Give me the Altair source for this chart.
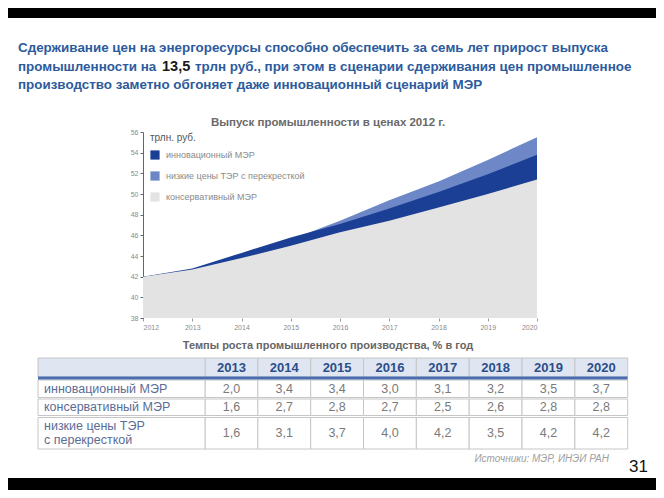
import altair as alt
import pandas as pd

# ---------------- data ----------------
years = [2012, 2013, 2014, 2015, 2016, 2017, 2018, 2019, 2020]
series_names = ["инновационный МЭР", "низкие цены ТЭР с перекресткой", "консервативный МЭР"]
innov = [42.0, 42.8, 44.3, 45.8, 47.1, 48.6, 50.2, 51.9, 53.8]
low = [42.0, 42.7, 44.0, 45.6, 47.4, 49.4, 51.2, 53.3, 55.5]
cons = [42.0, 42.7, 43.8, 45.0, 46.3, 47.4, 48.7, 50.0, 51.4]
y_ticks = [38, 40, 42, 44, 46, 48, 50, 52, 54, 56]

table_years = ["2013", "2014", "2015", "2016", "2017", "2018", "2019", "2020"]
row_labels = ["инновационный МЭР", "консервативный МЭР", "низкие цены ТЭР\nс перекресткой"]
rate_innov = [2.0, 3.4, 3.4, 3.0, 3.1, 3.2, 3.5, 3.7]
rate_cons = [1.6, 2.7, 2.8, 2.7, 2.5, 2.6, 2.8, 2.8]
rate_low = [1.6, 3.1, 3.7, 4.0, 4.2, 3.5, 4.2, 4.2]

title_lines = [
    "Сдерживание цен на энергоресурсы способно обеспечить за семь лет прирост выпуска",
    "промышленности на",
    "13,5",
    "трлн руб., при этом в сценарии сдерживания цен промышленное",
    "производство заметно обгоняет даже инновационный сценарий МЭР",
]
chart_title = "Выпуск промышленности в ценах 2012 г."
unit_label = "трлн. руб."
table_title = "Темпы роста промышленного производства, % в год"
source_text = "Источники: МЭР, ИНЭИ РАН"
page_no = "31"

# ---------------- layout / style ----------------
W, H = 648, 482
FONT = "Liberation Sans Narrow, Liberation Sans, sans-serif"
TF = "Liberation Sans, Arial, sans-serif"
BLUE_T = "#2d5b9d"
C_DARK = "#1b3f95"
C_LIGHT = "#6e88c7"
C_GREY = "#e3e3e3"

PX0, PX1 = 135, 529        # plot x range (2012..2020)
PY_TOP, PY_BOT = 124, 310  # plot y range (56..38)

# ---------------- area chart ----------------
rows = []
for name, vals in zip(series_names, [innov, low, cons]):
    for yr, v in zip(years, vals):
        rows.append({"year": yr, "value": v, "series": name})
df_area = pd.DataFrame(rows)

xenc = alt.X("year:Q",
             scale=alt.Scale(domain=[2012, 2020], range=[PX0, PX1], nice=False, zero=False),
             axis=alt.Axis(orient="bottom", offset=-(H - PY_BOT), values=years, format="d",
                           labelFontSize=7, labelColor="#8a8a8a", labelFont=FONT,
                           tickColor="#9a9a9a", tickSize=3, domain=False, grid=False,
                           title=None, labelPadding=2))
yenc = alt.Y("value:Q",
             scale=alt.Scale(domain=[38, 56], range=[PY_BOT, PY_TOP], nice=False, zero=False),
             axis=alt.Axis(orient="left", offset=-PX0, values=y_ticks, format="d",
                           labelFontSize=7, labelColor="#8a8a8a", labelFont=FONT,
                           tickColor="#666", tickSize=3, domainColor="#666", grid=False,
                           title=None, labelPadding=2))
cenc = alt.Color("series:N",
                 scale=alt.Scale(domain=series_names, range=[C_DARK, C_LIGHT, C_GREY]),
                 legend=alt.Legend(orient="none", legendX=PX0 + 7, legendY=PY_TOP + 1,
                                   title=unit_label, titleFontSize=10, titleColor="#555",
                                   titleFontWeight="normal", titleFont=FONT, titlePadding=7,
                                   symbolType="square", symbolSize=85, symbolStrokeWidth=0,
                                   symbolOpacity=1,
                                   labelFontSize=9, labelColor="#8a8a8a", labelFont=FONT,
                                   labelOffset=6, rowPadding=11, padding=0))

area_layers = []
for name in [series_names[1], series_names[0], series_names[2]]:
    area_layers.append(
        alt.Chart(df_area).transform_filter(alt.datum.series == name)
        .mark_area(opacity=1, interpolate="linear")
        .encode(x=xenc, y=yenc, y2=alt.datum(38), color=cenc)
    )
areas = alt.layer(*area_layers)

# ---------------- table ----------------
TX0, TXL, TX1 = 30, 197, 619.7
row_top = [350, 372, 391, 409.5]
row_bot = [369, 389.5, 407.5, 441]
LH = 14
rates = [rate_innov, rate_cons, rate_low]

cells = []
for ri in range(4):
    for ci, yr in enumerate(table_years):
        if ri == 0:
            t = yr
        else:
            t = f"{rates[ri - 1][ci]:.1f}".replace(".", ",")
        cells.append({"row": ri, "year": yr, "txt": t, "top": row_top[ri],
                      "bot": row_bot[ri], "cy": (row_top[ri] + row_bot[ri]) / 2})
df_cells = pd.DataFrame(cells)
lab = []
for ri in range(4):
    t = "" if ri == 0 else row_labels[ri - 1]
    n = t.count("\n") + 1
    cy = (row_top[ri] + row_bot[ri]) / 2
    lab.append({"row": ri, "txt": t, "top": row_top[ri], "bot": row_bot[ri],
                "ly": cy - (n - 1) * LH / 2})
df_lab = pd.DataFrame(lab)

xband = alt.X("year:O", scale=alt.Scale(domain=table_years, range=[TXL, TX1],
                                        paddingInner=0, paddingOuter=0), axis=None)

cell_rects = alt.Chart(df_cells).mark_rect(stroke="#c6c6c6", strokeWidth=1).encode(
    x=xband,
    y=alt.Y("top:Q", scale=None), y2="bot:Q",
    fill=alt.condition(alt.datum.row == 0, alt.value("#dfe6f2"), alt.value("white")),
)
lab_rects = alt.Chart(df_lab).mark_rect(stroke="#c6c6c6", strokeWidth=1).encode(
    x=alt.value(TX0), x2=alt.value(TXL),
    y=alt.Y("top:Q", scale=None), y2="bot:Q",
    fill=alt.condition(alt.datum.row == 0, alt.value("#dfe6f2"), alt.value("white")),
)
blue_line = alt.Chart(pd.DataFrame({"a": [0]})).mark_rect(color="#4a6db0").encode(
    x=alt.value(TX0), x2=alt.value(TX1), y=alt.value(368.5), y2=alt.value(371.5))

head_txt = alt.Chart(df_cells).transform_filter(alt.datum.row == 0).mark_text(
    font=FONT, fontSize=13, fontWeight="bold", color="#2c4e8a", baseline="middle"
).encode(x=xband, y=alt.Y("cy:Q", scale=None), text="txt:N")
val_txt = alt.Chart(df_cells).transform_filter(alt.datum.row > 0).mark_text(
    font=FONT, fontSize=12.5, color="#7a7a7a", baseline="middle"
).encode(x=xband, y=alt.Y("cy:Q", scale=None), text="txt:N")
lab_txt = alt.Chart(df_lab).transform_filter(alt.datum.row > 0).mark_text(
    font=FONT, fontSize=12.5, color="#5a6d96", baseline="middle", align="left",
    lineBreak="\n", lineHeight=LH
).encode(x=alt.value(TX0 + 6), y=alt.Y("ly:Q", scale=None), text="txt:N")

# ---------------- texts ----------------
def txt(t, x, y, size, color, weight="normal", align="left", style="normal", font=FONT):
    return alt.Chart(pd.DataFrame({"t": [t]})).mark_text(
        font=font, fontSize=size, color=color, fontWeight=weight, align=align,
        baseline="middle", fontStyle=style
    ).encode(x=alt.value(x), y=alt.value(y), text="t:N")

TS = 13.4
t1 = txt(title_lines[0], 10, 40, TS, BLUE_T, "bold", font=TF)
t2a = txt(title_lines[1], 10, 58.5, TS, BLUE_T, "bold", font=TF)
t2b = txt(title_lines[2], 154, 58.5, 14.5, "#1a1a1a", "bold", font=TF)
t2c = txt(title_lines[3], 187, 58.5, TS, BLUE_T, "bold", font=TF)
t3 = txt(title_lines[4], 10, 76.5, TS, BLUE_T, "bold", font=TF)
ct = txt(chart_title, 320, 115, 11.5, "#6a6a6a", "bold", align="center", font=TF)
tt = txt(table_title, 320, 338, 11, "#666666", "bold", align="center", font=TF)
src = txt(source_text, 601, 451, 10, "#a0a0a0", align="right", style="italic")
pg = txt(page_no, 640, 458.5, 17, "#111111", align="right", font=TF)

band_top = alt.Chart(pd.DataFrame({"a": [0]})).mark_rect(color="black").encode(
    x=alt.value(0), x2=alt.value(W), y=alt.value(0), y2=alt.value(10))
band_bot = alt.Chart(pd.DataFrame({"a": [0]})).mark_rect(color="black").encode(
    x=alt.value(0), x2=alt.value(W), y=alt.value(470), y2=alt.value(H))

chart = alt.layer(
    areas, cell_rects, lab_rects, blue_line, head_txt, val_txt, lab_txt,
    band_top, band_bot, t1, t2a, t2b, t2c, t3, ct, tt, src, pg
).resolve_scale(x="independent", y="independent").properties(
    width=W, height=H, autosize=alt.AutoSizeParams(type="none"), padding=0,
    background="white"
).configure_view(stroke=None)

chart.save("out.html", embed_options={"renderer": "svg", "actions": False})
